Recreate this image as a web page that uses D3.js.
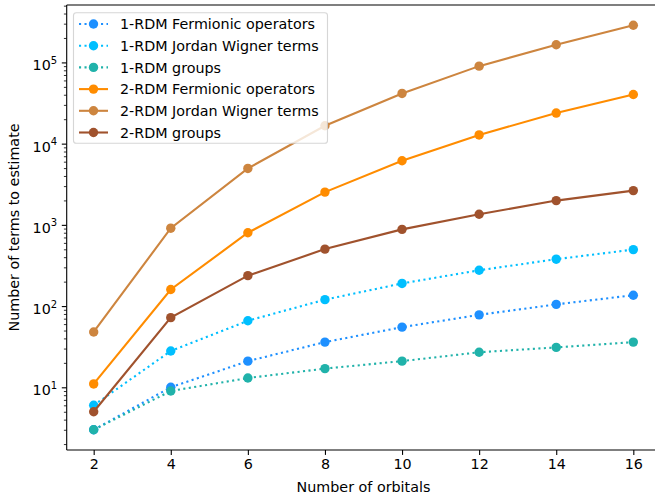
<!DOCTYPE html>
<html>
<head>
<meta charset="utf-8">
<script src="https://cdn.jsdelivr.net/npm/d3@7"></script>
<style>
  html, body { margin: 0; padding: 0; background: #fff; overflow: hidden; }
  svg { display: block; font-family: "DejaVu Sans", sans-serif; }
</style>
</head>
<body>
<script>
// ---- data ----
const orbitals = [2, 4, 6, 8, 10, 12, 14, 16];
const rdm1Fermionic = [3, 10, 21, 36, 55, 78, 105, 136];
const rdm1JordanWigner = [6, 28, 66, 120, 190, 276, 378, 496];
const rdm1Groups = [3, 9, 13, 17, 21, 27, 31, 36];
const rdm2Fermionic = [11, 160, 800, 2530, 6160, 12800, 23800, 40300];
const rdm2JordanWigner = [48, 910, 4950, 16600, 41500, 90000, 165000, 287000];
const rdm2Groups = [5, 72, 237, 503, 880, 1350, 1990, 2640];

const seriesNames = [
  "1-RDM Fermionic operators",
  "1-RDM Jordan Wigner terms",
  "1-RDM groups",
  "2-RDM Fermionic operators",
  "2-RDM Jordan Wigner terms",
  "2-RDM groups"
];
const seriesValues = [rdm1Fermionic, rdm1JordanWigner, rdm1Groups, rdm2Fermionic, rdm2JordanWigner, rdm2Groups];
const seriesColors = ["#1e90ff", "#00bfff", "#20b2aa", "#ff8c00", "#cd853f", "#a0522d"];
const seriesDotted = [true, true, true, false, false, false];
const xTickValues = [2, 4, 6, 8, 10, 12, 14, 16];
const yTickExponents = [1, 2, 3, 4, 5];
const xLabel = "Number of orbitals";
const yLabel = "Number of terms to estimate";

// ---- layout ----
const W = 655, H = 498;
const plot = { left: 66.7, right: 660.3, top: 5, bottom: 450 };
const FS = 14.3;

const svg = d3.select("body").append("svg").attr("width", W).attr("height", H);

// scales with matplotlib-like 5% margins
const xMin = d3.min(orbitals), xMax = d3.max(orbitals);
const xPad = (xMax - xMin) * 0.05;
const x = d3.scaleLinear().domain([xMin - xPad, xMax + xPad]).range([plot.left, plot.right]);

const allVals = seriesValues.flat();
const lMin = Math.log10(d3.min(allVals)), lMax = Math.log10(d3.max(allVals));
const lPad = (lMax - lMin) * 0.05;
const y = d3.scaleLog().domain([Math.pow(10, lMin - lPad), Math.pow(10, lMax + lPad)]).range([plot.bottom, plot.top]);

// ---- series ----
const line = d3.line().x((d, i) => x(orbitals[i])).y(d => y(d));
seriesValues.forEach((vals, si) => {
  const g = svg.append("g");
  g.append("path")
    .datum(vals)
    .attr("d", line)
    .attr("fill", "none")
    .attr("stroke", seriesColors[si])
    .attr("stroke-width", 2.1)
    .attr("stroke-dasharray", seriesDotted[si] ? "2.1,3.4" : null)
    .attr("stroke-linecap", "butt");
  g.selectAll("circle")
    .data(vals)
    .enter().append("circle")
    .attr("cx", (d, i) => x(orbitals[i]))
    .attr("cy", d => y(d))
    .attr("r", 4.7)
    .attr("fill", seriesColors[si]);
});

// ---- axes ----
const axisColor = "#000";
// spines
svg.append("line").attr("x1", plot.left).attr("x2", plot.left).attr("y1", plot.top).attr("y2", plot.bottom)
  .attr("stroke", axisColor).attr("stroke-width", 1.1);
svg.append("line").attr("x1", plot.right).attr("x2", plot.right).attr("y1", plot.top).attr("y2", plot.bottom)
  .attr("stroke", axisColor).attr("stroke-width", 1.1);
svg.append("line").attr("x1", plot.left).attr("x2", plot.right).attr("y1", plot.top).attr("y2", plot.top)
  .attr("stroke", axisColor).attr("stroke-width", 1.1);
svg.append("line").attr("x1", plot.left).attr("x2", plot.right).attr("y1", plot.bottom).attr("y2", plot.bottom)
  .attr("stroke", axisColor).attr("stroke-width", 1.1);

// x axis via d3 axis
const xAxis = d3.axisBottom(x).tickValues(xTickValues).tickSize(4.9).tickPadding(4).tickFormat(d3.format("d"));
const gx = svg.append("g").attr("transform", `translate(0,${plot.bottom})`).call(xAxis);
gx.select(".domain").remove();
gx.selectAll(".tick line").attr("stroke", axisColor).attr("stroke-width", 1.1);
gx.selectAll(".tick text").attr("font-size", FS).attr("font-family", "DejaVu Sans").attr("fill", "#000");

// y axis: major ticks with mathtext-like labels, and minor ticks
const [d0, d1] = y.domain();
const minorTicks = [];
for (let e = Math.floor(Math.log10(d0)); e <= Math.ceil(Math.log10(d1)); e++) {
  for (let m = 2; m <= 9; m++) {
    const v = m * Math.pow(10, e);
    if (v >= d0 && v <= d1) minorTicks.push(v);
  }
}
const yMinorAxis = d3.axisLeft(y).tickValues(minorTicks).tickSize(2.8).tickFormat("");
const gyMinor = svg.append("g").attr("transform", `translate(${plot.left},0)`).call(yMinorAxis);
gyMinor.select(".domain").remove();
gyMinor.selectAll(".tick line").attr("stroke", axisColor).attr("stroke-width", 0.8);

const yMajorVals = yTickExponents.map(e => Math.pow(10, e));
const yAxis = d3.axisLeft(y).tickValues(yMajorVals).tickSize(4.9).tickFormat("");
const gy = svg.append("g").attr("transform", `translate(${plot.left},0)`).call(yAxis);
gy.select(".domain").remove();
gy.selectAll(".tick line").attr("stroke", axisColor).attr("stroke-width", 1.1);
gy.selectAll(".tick").each(function(d) {
  const t = d3.select(this).append("text")
    .attr("x", -9.5).attr("y", 0).attr("dy", 7.5)
    .attr("text-anchor", "end").attr("font-size", FS).attr("fill", "#000")
    .attr("font-family", "DejaVu Sans");
  t.append("tspan").text("10");
  t.append("tspan").attr("font-size", 10).attr("dy", -6.5).text(String(Math.round(Math.log10(d))));
});

// axis labels
svg.append("text").attr("x", (plot.left + plot.right) / 2).attr("y", 492)
  .attr("text-anchor", "middle").attr("font-size", FS).attr("fill", "#000").text(xLabel);
svg.append("text").attr("transform", `translate(19,${(plot.top + plot.bottom) / 2}) rotate(-90)`)
  .attr("text-anchor", "middle").attr("font-size", FS).attr("fill", "#000").text(yLabel);

// ---- legend ----
const leg = svg.append("g");
const legX = 73.5, legY = 12.7, legW = 254, legH = 130.6;
leg.append("rect").attr("x", legX).attr("y", legY).attr("width", legW).attr("height", legH)
  .attr("rx", 2.8).attr("ry", 2.8)
  .attr("fill", "#fff").attr("fill-opacity", 0.8)
  .attr("stroke", "#cccccc").attr("stroke-opacity", 0.8).attr("stroke-width", 1.1);
const rowY0 = 24, rowStep = 21.7;
seriesNames.forEach((name, i) => {
  const cy = rowY0 + i * rowStep;
  leg.append("line").attr("x1", 79).attr("x2", 108).attr("y1", cy).attr("y2", cy)
    .attr("stroke", seriesColors[i]).attr("stroke-width", 2.1)
    .attr("stroke-dasharray", seriesDotted[i] ? "2.1,3.4" : null);
  leg.append("circle").attr("cx", 93.5).attr("cy", cy).attr("r", 4.7).attr("fill", seriesColors[i]);
  leg.append("text").attr("x", 120).attr("y", cy).attr("dy", 5.1)
    .attr("font-size", FS).attr("fill", "#000").text(name);
});
</script>
</body>
</html>
